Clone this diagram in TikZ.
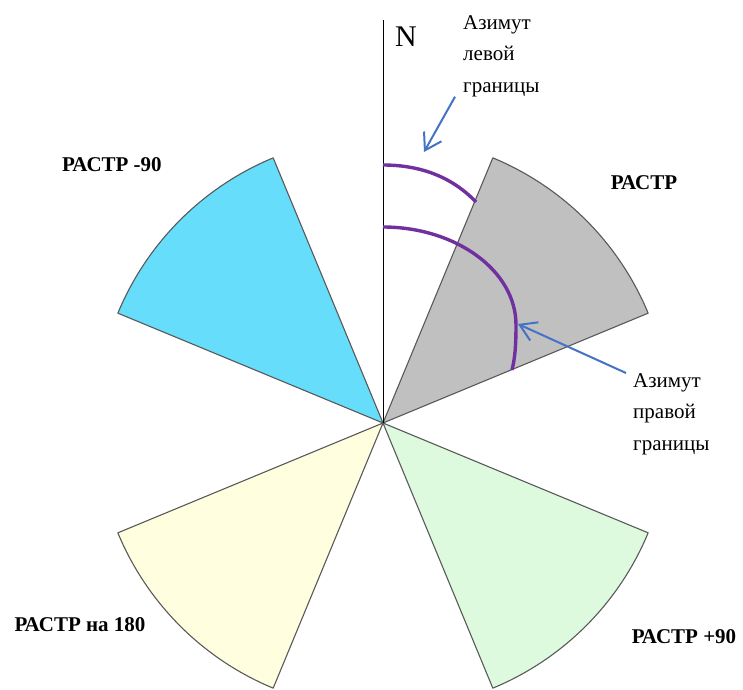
\documentclass[tikz,border=0pt]{standalone}
\usepackage{fontspec}
\setmainfont{Liberation Serif}
\usetikzlibrary{arrows.meta}

\definecolor{rastrgray}{HTML}{C0C0C0}
\definecolor{rastrblue}{HTML}{66DDFA}
\definecolor{rastryellow}{HTML}{FFFFE0}
\definecolor{rastrgreen}{HTML}{DEFADE}
\definecolor{azpurple}{HTML}{7030A0}
\definecolor{arrowblue}{HTML}{4472C4}

\begin{document}
\begin{tikzpicture}[x=1pt, y=1pt,
		sector/.style={draw=black!65, line width=1.1pt, line join=round},
		azline/.style={line width=3.4pt, color=azpurple},
		pointer/.style={-{Straight Barb[length=16pt, width=20pt]}, line width=2pt, color=arrowblue},
		lab/.style={
			font=\fontsize{21}{25}\selectfont\bfseries,
			inner sep=0pt
		},
		note/.style={
			font=\fontsize{21}{31.5}\selectfont,
			align=left,
			inner sep=0pt
		}
		]
		\useasboundingbox (-383,-266) rectangle (360,423);
		
		% --- Raster sectors (base, -90, 180, +90) ---
		\coordinate (O) at (0,0);
		\foreach \rot/\col in {0/rastrgray, 90/rastrblue, 180/rastryellow, -90/rastrgreen}
			\draw[sector, fill=\col, rotate=\rot] (O) -- (67.5:287) arc[start angle=67.5, end angle=22.5, radius=287] -- cycle;
		
		% --- North direction ---
		\draw[line width=1pt] (O) -- (0,403) coordinate (Ntop);
		\node[font=\fontsize{30}{30}\selectfont, inner sep=0pt] (Nlab) at (23,386) {N};
		
		% --- Azimuth arcs ---
		\draw[azline] (0,258) .. controls (42,258) and (72,243) .. (93,221);
		\draw[azline] (0,196) .. controls (72,196) and (133,153) .. (133,98) .. controls (133,78) and (132,65) .. (129,53);
		\coordinate (tipL) at (41,271);
		\coordinate (tipR) at (135,99);
		
		% --- Notes ---
		\node[note, anchor=north west] (AzL) at (80,408) {Азимут\\левой\\границы};
		\node[note, anchor=north west] (AzR) at (250,50) {Азимут\\правой\\границы};
		\draw[pointer] ([xshift=-8pt]AzL.south west) -- (tipL);
		\draw[pointer] ([xshift=-7pt]AzR.north west) -- (tipR);
		
		% --- Sector labels ---
		\node[lab] (RASTR) at (261,240) {РАСТР};
		\node[lab] (RASTRm) at (-271,258) {РАСТР -90};
		\node[lab] (RASTR180) at (-303,-202) {РАСТР на 180};
		\node[lab] (RASTRp) at (301,-214) {РАСТР +90};
		
	\end{tikzpicture}
\end{document}
